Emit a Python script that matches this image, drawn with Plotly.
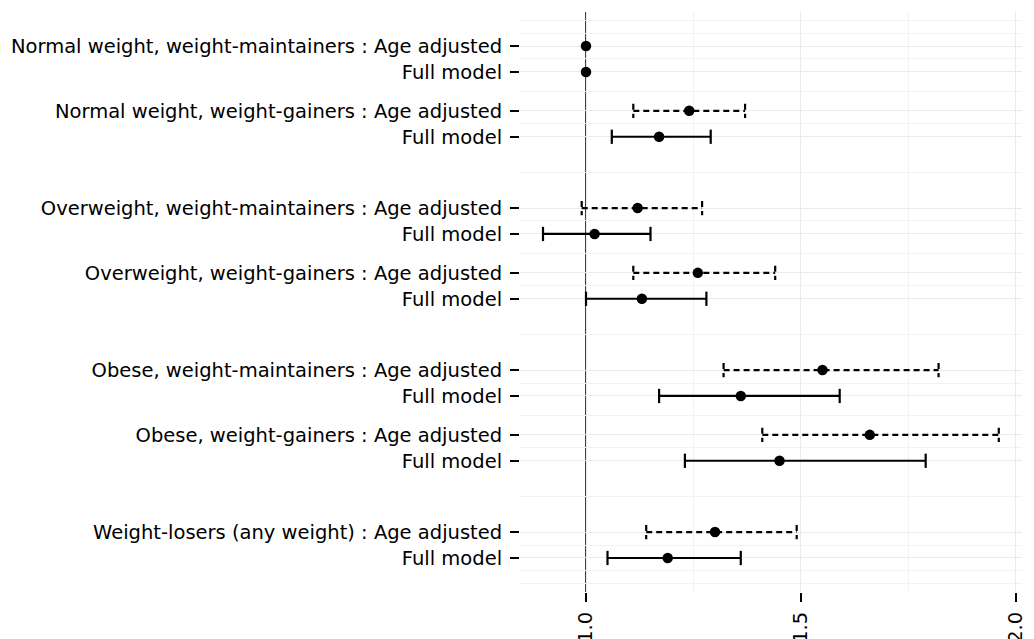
import plotly.graph_objects as go

# ---- data ----
groups = [
    "Normal weight, weight-maintainers",
    "Normal weight, weight-gainers",
    "Overweight, weight-maintainers",
    "Overweight, weight-gainers",
    "Obese, weight-maintainers",
    "Obese, weight-gainers",
    "Weight-losers (any weight)",
]
models = ["Age adjusted", "Full model"]

or_age = [1.00, 1.24, 1.12, 1.26, 1.55, 1.66, 1.30]
lo_age = [None, 1.11, 0.99, 1.11, 1.32, 1.41, 1.14]
hi_age = [None, 1.37, 1.27, 1.44, 1.82, 1.96, 1.49]

or_full = [1.00, 1.17, 1.02, 1.13, 1.36, 1.45, 1.19]
lo_full = [None, 1.06, 0.90, 1.00, 1.17, 1.23, 1.05]
hi_full = [None, 1.29, 1.15, 1.28, 1.59, 1.79, 1.36]

block = [0, 0, 1, 1, 2, 2, 3]      # BMI block each group belongs to
x_ticks = [1.0, 1.5, 2.0]
x_tick_text = ["1.0", "1.5", "2.0"]
ref_value = 1.0

# ---- layout of rows (continuous y like the original) ----
BLOCK_STEP, SUB_STEP, MODEL_STEP = 2.5, 1.0, 0.4
ypos_age, ypos_full = [], []
seen = {}
for g, b in zip(groups, block):
    k = seen.get(b, 0)
    seen[b] = k + 1
    base = BLOCK_STEP * b + SUB_STEP * k
    ypos_age.append(base)
    ypos_full.append(base + MODEL_STEP)

tickvals = []
ticktext = []
for g, ya, yf in zip(groups, ypos_age, ypos_full):
    tickvals += [ya, yf]
    ticktext += [f"{g} : {models[0]}", models[1]]

# minor breaks as ggplot computes them (midpoints, extended by first diff)
tv = sorted(tickvals)
bd = tv[1] - tv[0]
ext = [tv[0] - bd] + tv + [tv[-1] + bd]
minor_y = []
for a, b2 in zip(ext[:-1], ext[1:]):
    minor_y.append((a + b2) / 2)
minor_y += [ext[0], ext[-1]]
minor_x = [(a + b2) / 2 for a, b2 in zip(x_ticks[:-1], x_ticks[1:])]

CAP = 0.11


def ci_path(ys, los, his):
    xs, yy = [], []
    for y, lo, hi in zip(ys, los, his):
        if lo is None or hi is None:
            continue
        xs += [lo, hi, None, lo, lo, None, hi, hi, None]
        yy += [y, y, None, y - CAP, y + CAP, None, y - CAP, y + CAP, None]
    return xs, yy


fig = go.Figure()

xa, ya_ = ci_path(ypos_age, lo_age, hi_age)
fig.add_trace(go.Scatter(x=xa, y=ya_, mode="lines",
                         line=dict(color="black", width=2.2, dash="6px,4px"),
                         hoverinfo="skip", showlegend=False))
xf, yf_ = ci_path(ypos_full, lo_full, hi_full)
fig.add_trace(go.Scatter(x=xf, y=yf_, mode="lines",
                         line=dict(color="black", width=2.2),
                         hoverinfo="skip", showlegend=False))
fig.add_trace(go.Scatter(x=or_age + or_full, y=ypos_age + ypos_full, mode="markers",
                         marker=dict(color="black", size=10.5),
                         showlegend=False))

fig.add_shape(type="line", x0=ref_value, x1=ref_value, y0=0, y1=1,
              xref="x", yref="paper", layer="between",
              line=dict(color="black", width=1.5))

# the page body has an 8px default margin, so the figure is sized to the
# visible window area
font = dict(family="DejaVu Sans", size=19.5, color="black")
fig.update_layout(
    width=1026, height=631,
    margin=dict(l=512, r=12, t=4, b=47, autoexpand=False),
    paper_bgcolor="white", plot_bgcolor="white",
    font=font,
    showlegend=False,
    xaxis=dict(
        range=[0.8465, 2.014],
        tickmode="array", tickvals=x_ticks, ticktext=x_tick_text,
        tickangle=-90, automargin=False,
        ticks="outside", ticklen=9, tickwidth=2, tickcolor="black",
        ticklabelstandoff=2,
        showgrid=True, gridcolor="#ebebeb", gridwidth=1,
        minor=dict(tickmode="array", tickvals=minor_x, showgrid=True,
                   gridcolor="#f2f2f2", gridwidth=1, ticks=""),
        zeroline=False, showline=False,
        tickfont=font,
    ),
    yaxis=dict(
        range=[8.425, -0.525],
        tickmode="array", tickvals=tickvals, ticktext=ticktext,
        automargin=False,
        ticks="outside", ticklen=9, tickwidth=2, tickcolor="black",
        ticklabelstandoff=4,
        showgrid=True, gridcolor="#ebebeb", gridwidth=1,
        minor=dict(tickmode="array", tickvals=minor_y, showgrid=True,
                   gridcolor="#f2f2f2", gridwidth=1, ticks=""),
        zeroline=False, showline=False,
        tickfont=font,
    ),
)

fig.write_html("out.html")
